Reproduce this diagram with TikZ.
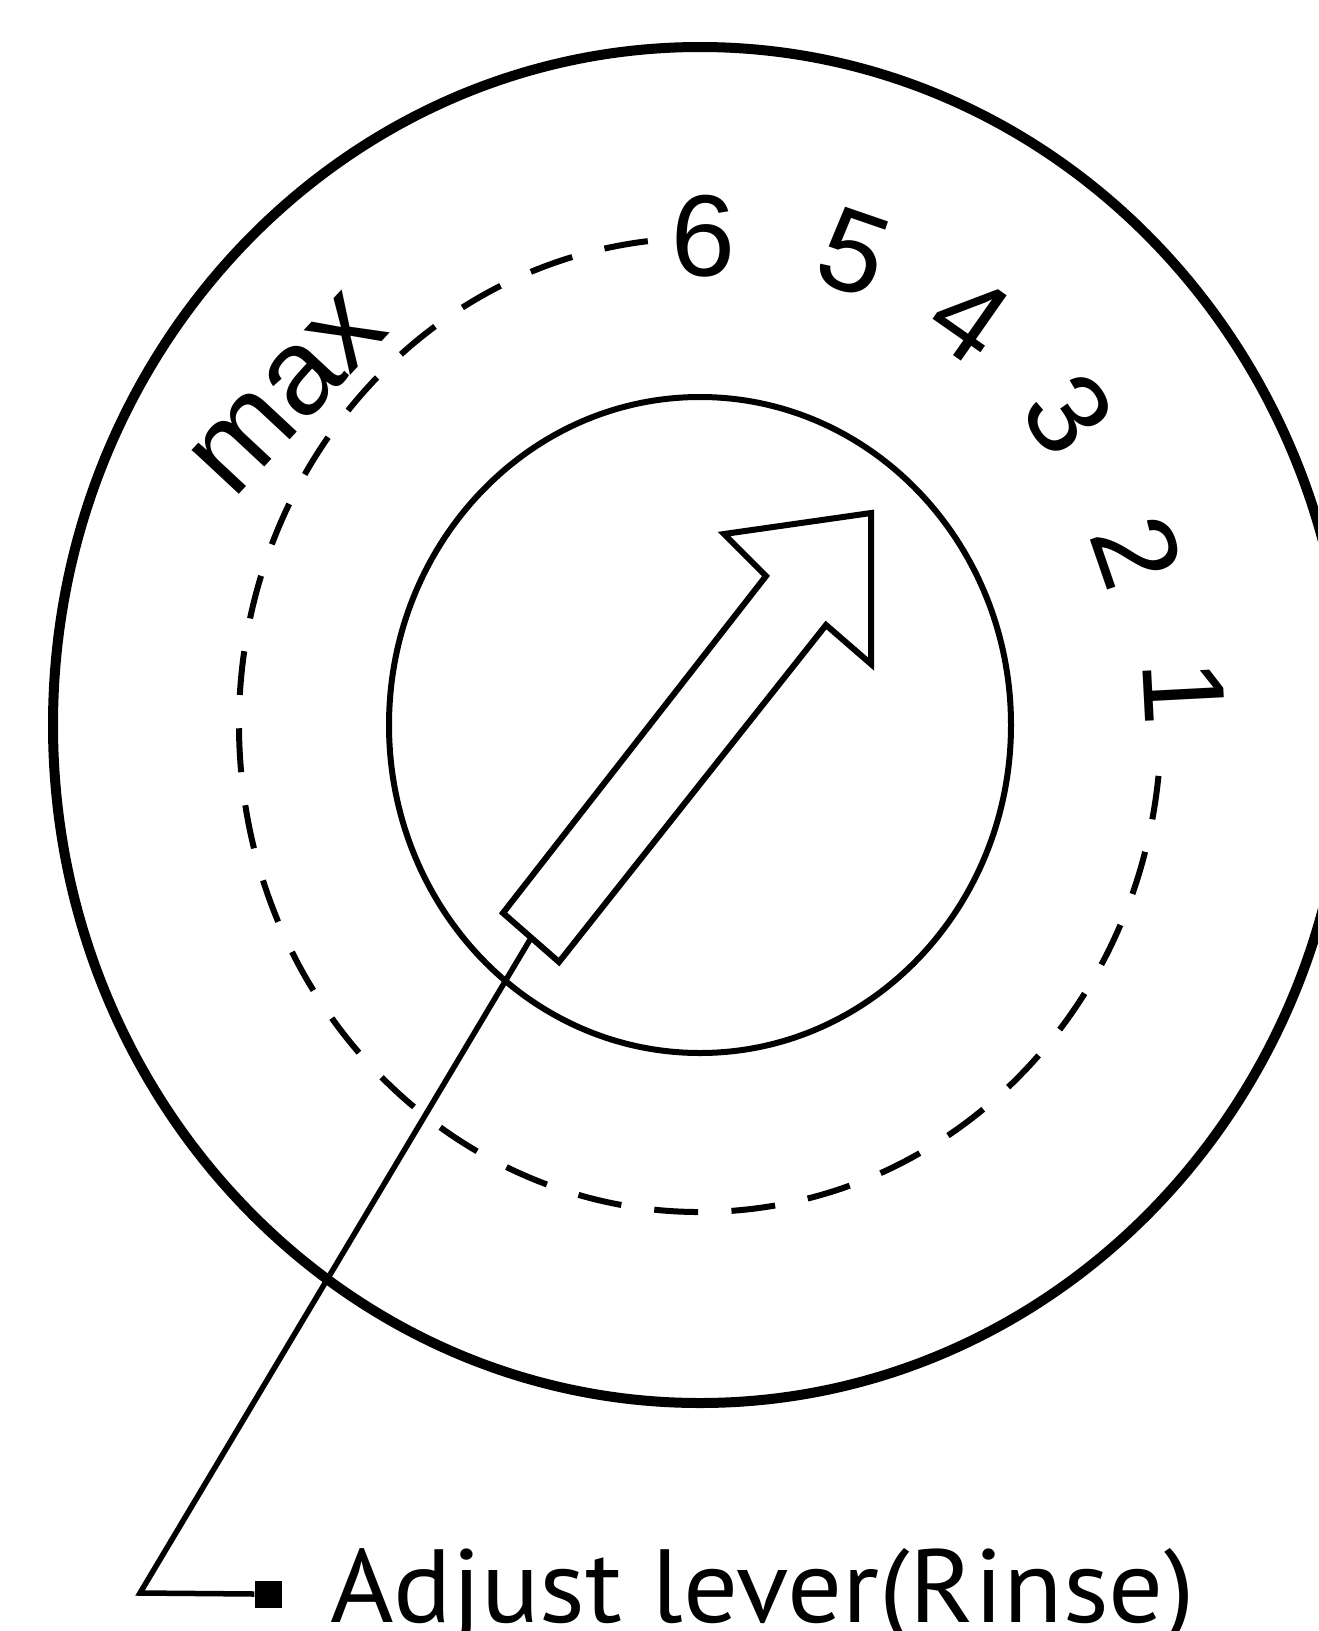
\documentclass[tikz,border=0pt]{standalone}
\usepackage{fontspec}
\setmainfont{Liberation Sans}
\newfontfamily\labelfont[FakeStretch=1.045]{PT Sans}
\begin{document}
\begin{tikzpicture}[x=1pt,y=-1pt,
  outerring/.style={line width=10pt},
  innerring/.style={line width=6pt},
  scaledash/.style={line width=6pt, dash pattern=on 44pt off 33.3pt},
  lever/.style={line width=6pt, line join=miter, fill=white},
  leader/.style={line width=5.5pt},
  dialnum/.style={font=\fontsize{116}{116}\selectfont, inner sep=0pt},
  maxlbl/.style={font=\fontsize{122}{122}\selectfont, inner sep=0pt},
  lbl/.style={font=\labelfont\fontsize{104}{104}\selectfont, inner sep=0pt, anchor=base west},
  endsquare/.style={fill=black, minimum size=27pt, inner sep=0pt}]
\useasboundingbox (0,0) rectangle (1318,1631);
\clip (0,0) rectangle (1318,1631);
\fill[white] (0,0) rectangle (1318,1631);
% centre of the dial
\coordinate (c) at (700,725);
% rings
\draw[outerring] (c) ellipse [x radius=647, y radius=678];
\draw[innerring] (c) ellipse [x radius=311, y radius=328];
\draw[scaledash] (c) ++(-96.5:461 and 487) arc[start angle=-96.5, end angle=-354, x radius=461, y radius=487];
% scale labels
\node[maxlbl, rotate=47] (nmax) at (289,394) {max};
\node[dialnum, rotate=-1] (n6) at (703,236) {6};
\node[dialnum, rotate=-19] (n5) at (854,253) {5};
\node[dialnum, rotate=-35] (n4) at (970,318) {4};
\node[dialnum, rotate=-55] (n3) at (1069,414) {3};
\node[dialnum, rotate=-71] (n2) at (1137,552) {2};
\node[dialnum, rotate=-87] (n1) at (1184,693) {1};
% lever arrow
\draw[lever] (871,513) -- (871,664) -- (826,625) -- (559,962) -- (503,913) -- (766,576) -- (724,534) -- cycle;
\coordinate (shaftend) at (531,938);
% leader and label
\coordinate (corner) at (140,1593);
\node[endsquare] (sq) at (268,1594) {};
\node[lbl] (label) at (330,1622) {Adjust lever(Rinse)};
\draw[leader] (shaftend) -- (corner) -- (sq.west);
\end{tikzpicture}
\end{document}
